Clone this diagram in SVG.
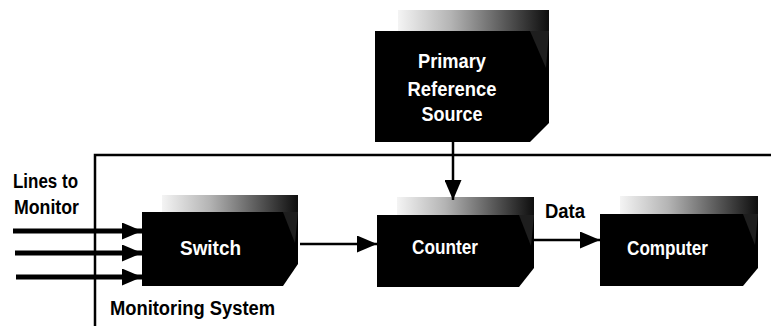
<svg xmlns="http://www.w3.org/2000/svg" width="771" height="326" viewBox="0 0 771 326">
  <defs>
    <!-- shaded top face of each block: light at the left, nearly black at the right -->
    <linearGradient id="topShade" x1="0" y1="0" x2="1" y2="0">
      <stop offset="0" stop-color="#f4f4f4"/>
      <stop offset="0.35" stop-color="#b4b4b4"/>
      <stop offset="0.7" stop-color="#5a5a5a"/>
      <stop offset="1" stop-color="#0e0e0e"/>
    </linearGradient>
    <marker id="head" markerUnits="userSpaceOnUse" markerWidth="20" markerHeight="17" refX="20" refY="8.5" orient="auto">
      <path d="M0,0 L20,8.5 L0,17 Z" fill="#000"/>
    </marker>
    <style>
      .band { fill: url(#topShade); }
      .face { fill: #000; }
      .side { fill: #1e1e1e; }
      .lbl { font-family: "Liberation Sans", Arial, sans-serif; font-weight: bold; font-size: 20px; }
      .in { fill: #fff; }
      .out { fill: #000; }
      .wire { stroke: #000; stroke-width: 2.5; fill: none; }
      .feed { stroke: #000; stroke-width: 5; fill: none; }
    </style>
  </defs>

  <!-- boundary of the monitoring system -->
  <g id="system-boundary">
    <path class="wire" d="M95,326 L95,155 L771,155"/>
    <text class="lbl out" x="110" y="315" textLength="165" lengthAdjust="spacingAndGlyphs">Monitoring System</text>
  </g>

  <!-- primary reference source -->
  <g id="primary-reference-source">
    <rect class="band" x="398" y="10" width="151" height="21"/>
    <polygon class="face" points="375,31 549,31 549,123 530,142 375,142"/>
    <polygon class="side" points="530,31 549,31 546,68"/>
    <text class="lbl in" x="452" y="68" text-anchor="middle" textLength="68" lengthAdjust="spacingAndGlyphs">Primary</text>
    <text class="lbl in" x="452" y="96" text-anchor="middle" textLength="89" lengthAdjust="spacingAndGlyphs">Reference</text>
    <text class="lbl in" x="452" y="121" text-anchor="middle" textLength="61" lengthAdjust="spacingAndGlyphs">Source</text>
  </g>

  <!-- switch -->
  <g id="switch">
    <rect class="band" x="162" y="195" width="136" height="17"/>
    <polygon class="face" points="142,212 298,212 298,264 283,286 142,286"/>
    <polygon class="side" points="283,212 298,212 295,243"/>
    <text class="lbl in" x="210.5" y="255" text-anchor="middle" textLength="61" lengthAdjust="spacingAndGlyphs">Switch</text>
  </g>

  <!-- counter -->
  <g id="counter">
    <rect class="band" x="397" y="197" width="137" height="18"/>
    <polygon class="face" points="377,215 534,215 534,268 519,287 377,287"/>
    <polygon class="side" points="519,215 534,215 531,246"/>
    <text class="lbl in" x="445" y="254" text-anchor="middle" textLength="66" lengthAdjust="spacingAndGlyphs">Counter</text>
  </g>

  <!-- computer -->
  <g id="computer">
    <rect class="band" x="620" y="196" width="138" height="18"/>
    <polygon class="face" points="600,214 758,214 758,268 743,286 600,286"/>
    <polygon class="side" points="743,214 758,214 755,245"/>
    <text class="lbl in" x="667.5" y="255" text-anchor="middle" textLength="81" lengthAdjust="spacingAndGlyphs">Computer</text>
  </g>

  <!-- signal paths -->
  <g id="connectors">
    <text class="lbl out" x="13" y="188" textLength="65" lengthAdjust="spacingAndGlyphs">Lines to</text>
    <text class="lbl out" x="14" y="214" textLength="65" lengthAdjust="spacingAndGlyphs">Monitor</text>
    <line class="feed" x1="13" y1="231" x2="142" y2="231" marker-end="url(#head)"/>
    <line class="feed" x1="15" y1="253" x2="142" y2="253" marker-end="url(#head)"/>
    <line class="feed" x1="16" y1="277" x2="142" y2="277" marker-end="url(#head)"/>
    <line class="wire" x1="453" y1="142" x2="453" y2="200" marker-end="url(#head)"/>
    <line class="wire" x1="300" y1="244" x2="377" y2="244" marker-end="url(#head)"/>
    <line class="wire" x1="534" y1="240" x2="600" y2="240" marker-end="url(#head)"/>
    <text class="lbl out" x="545" y="218" textLength="40" lengthAdjust="spacingAndGlyphs">Data</text>
  </g>
</svg>
